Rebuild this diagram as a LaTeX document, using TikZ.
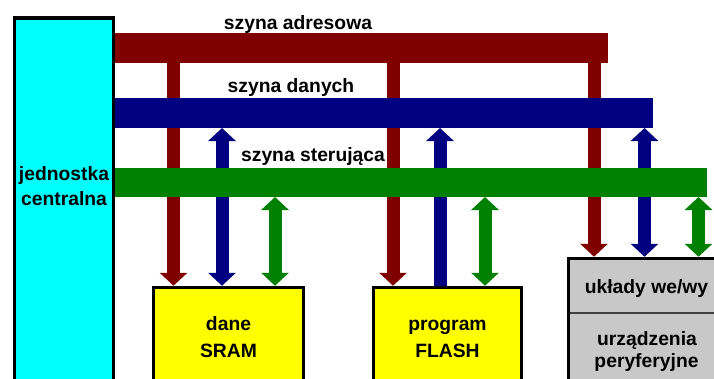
\documentclass[tikz,border=0pt]{standalone}
\usepackage{fontspec}
\setmainfont{Liberation Sans}
\usetikzlibrary{arrows.meta}
\definecolor{addrc}{RGB}{128,0,0}
\definecolor{datac}{RGB}{0,0,128}
\definecolor{ctrlc}{RGB}{0,128,0}
\definecolor{cpuc}{RGB}{0,255,255}
\definecolor{memc}{RGB}{255,255,0}
\definecolor{perc}{RGB}{200,200,200}
\definecolor{divc}{RGB}{64,64,64}
\tikzset{
  box/.style={draw=black, line width=3.5pt, rectangle, inner sep=0pt, anchor=north west},
  bus/.style={rectangle, inner sep=0pt, outer sep=0pt, anchor=north west},
  txt/.style={font=\bfseries\fontsize{19.3}{23}\selectfont, text=black, inner sep=0pt, anchor=base},
  tip/.tip={Triangle[width=27pt,length=13pt]},
  busarrow/.style={line width=13pt},
}
\begin{document}
\begin{tikzpicture}[x=1pt,y=-1pt]
\path[use as bounding box] (0,0) rectangle (714,378);
\clip (0,0) rectangle (714,378);
% units / boxes
\node[box, fill=cpuc, minimum width=99pt, minimum height=400pt] (cpu) at (12.75,16.25) {};
\node[box, fill=memc, minimum width=150pt, minimum height=150pt] (sram) at (151.75,285.75) {};
\node[box, fill=memc, minimum width=148pt, minimum height=150pt] (flash) at (371.75,285.75) {};
\node[box, fill=perc, minimum width=200pt, minimum height=160pt] (per) at (566.75,256.75) {};
\draw[divc, line width=2pt] ([xshift=3.5pt]per.west |- 0,313) -- (per.east |- 0,313);
% address bus
\node[bus, fill=addrc, minimum width=493pt, minimum height=30pt] (adres) at (cpu.north east |- 0,33) {};
\draw[busarrow, addrc, -tip] ([xshift=21.75pt]sram.north west |- adres.south) -- ([xshift=21.75pt]sram.north west);
\draw[busarrow, addrc, -tip] ([xshift=21.25pt]flash.north west |- adres.south) -- ([xshift=21.25pt]flash.north west);
\draw[busarrow, addrc, -tip] ([xshift=27.25pt]per.north west |- adres.south) -- ([xshift=27.25pt]per.north west);
% data bus
\node[bus, fill=datac, minimum width=538pt, minimum height=30pt] (dane) at (cpu.north east |- 0,98) {};
\draw[busarrow, datac, tip-tip] ([xshift=70.25pt]sram.north west |- dane.south) -- ([xshift=70.25pt]sram.north west);
\draw[busarrow, datac, tip-] ([xshift=68.25pt]flash.north west |- dane.south) -- ([xshift=68.25pt]flash.north west);
\draw[busarrow, datac, tip-tip] ([xshift=77.75pt]per.north west |- dane.south) -- ([xshift=77.75pt]per.north west);
% control bus
\node[bus, fill=ctrlc, minimum width=592pt, minimum height=29pt] (ster) at (cpu.north east |- 0,168) {};
\draw[busarrow, ctrlc, tip-tip] ([xshift=123.25pt]sram.north west |- ster.south) -- ([xshift=123.25pt]sram.north west);
\draw[busarrow, ctrlc, tip-tip] ([xshift=113.25pt]flash.north west |- ster.south) -- ([xshift=113.25pt]flash.north west);
\draw[busarrow, ctrlc, tip-tip] ([xshift=131.75pt]per.north west |- ster.south) -- ([xshift=131.75pt]per.north west);
% labels
\node[txt] (ladr) at (298,29) {szyna adresowa};
\node[txt] (ldan) at (291,92.5) {szyna danych};
\node[txt] (lste) at (313,161) {szyna sterująca};
\node[txt] (lcpu1) at (64,180.5) {jednostka};
\node[txt] (lcpu2) at (64,205) {centralna};
\node[txt] (lsram1) at (228.5,330) {dane};
\node[txt] (lsram2) at (228.5,357) {SRAM};
\node[txt] (lfl1) at (447.5,330) {program};
\node[txt] (lfl2) at (447.5,357) {FLASH};
\node[txt] (lper1) at (646.5,293) {układy we/wy};
\node[txt] (lper2) at (647,345) {urządzenia};
\node[txt] (lper3) at (646.5,367) {peryferyjne};
\end{tikzpicture}
\end{document}
